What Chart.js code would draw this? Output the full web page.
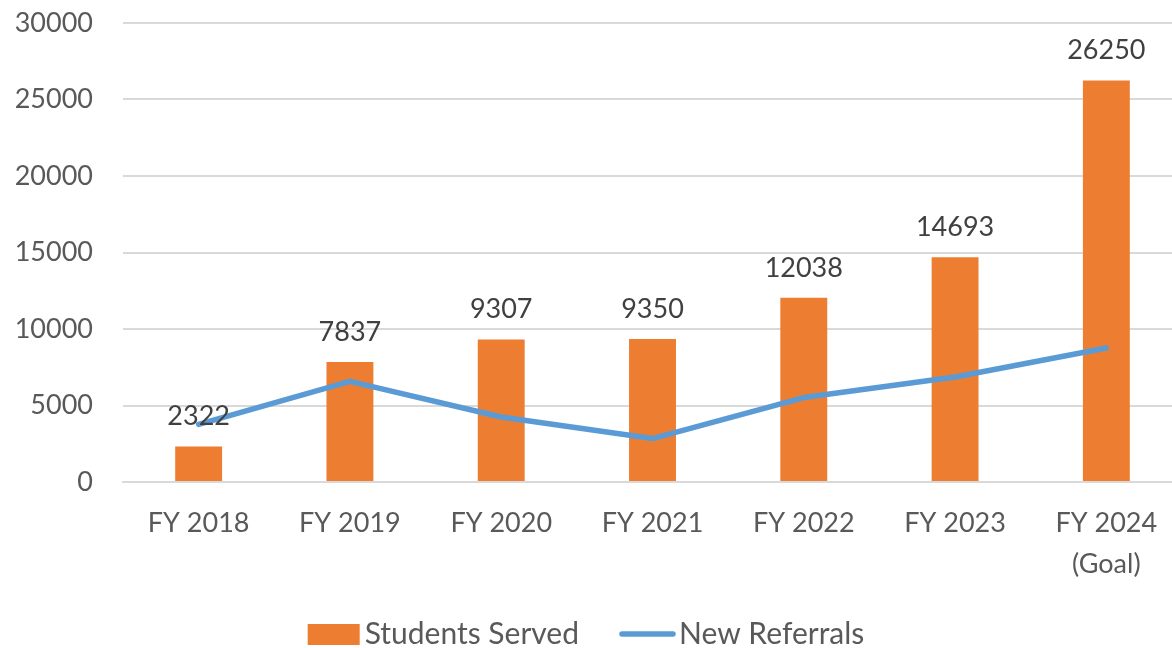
<!DOCTYPE html>
<html>
<head>
<meta charset="utf-8">
<script src="https://cdn.jsdelivr.net/npm/chart.js@4"></script>
<style>
  html, body { margin: 0; padding: 0; background: #fff; overflow: hidden; }
  #wrap { position: relative; width: 1182px; height: 648px; }
</style>
</head>
<body>
<div id="wrap"><canvas id="myChart"></canvas></div>
<script>
// data ----------------------------------------------------------
const categories = ['FY 2018', 'FY 2019', 'FY 2020', 'FY 2021', 'FY 2022', 'FY 2023', ['FY 2024', '(Goal)']];
const studentsServed = [2322, 7837, 9307, 9350, 12038, 14693, 26250];
const newReferrals = [3770, 6580, 4250, 2840, 5520, 6860, 8760];
const yTicks = [0, 5000, 10000, 15000, 20000, 25000, 30000];

const ORANGE = '#ED7D31';
const BLUE = '#5B9BD5';
const FONT = 'Lato, "Open Sans", sans-serif';

// value labels over the bars
const barLabels = {
    id: 'barLabels',
    afterDraw(chart) {
        const c = chart.ctx;
        const meta = chart.getDatasetMeta(0);
        c.save();
        c.font = '27px ' + FONT;
        c.fillStyle = '#404040';
        c.textAlign = 'center';
        c.textBaseline = 'middle';
        meta.data.forEach((bar, i) => {
            c.fillText(String(studentsServed[i]), bar.x, bar.y - 30);
        });
        c.restore();
    }
};

// legend at the bottom, drawn like the office one (small gap before text)
const bottomLegend = {
    id: 'bottomLegend',
    afterDraw(chart) {
        const c = chart.ctx;
        const ds = chart.data.datasets;
        const y = 634;
        c.save();
        c.font = '30px ' + FONT;
        c.textBaseline = 'middle';
        const w1 = c.measureText(ds[0].label).width;
        const w2 = c.measureText(ds[1].label).width;
        const total = 52 + 5 + w1 + 40 + 57 + 3 + w2;
        let x = 586 - total / 2;
        c.fillStyle = ds[0].backgroundColor;
        c.fillRect(x, y - 10, 52, 21);
        x += 57;
        c.fillStyle = '#595959';
        c.fillText(ds[0].label, x, y);
        x += w1 + 40;
        c.strokeStyle = ds[1].borderColor;
        c.lineWidth = ds[1].borderWidth;
        c.lineCap = 'round';
        c.beginPath();
        c.moveTo(x + 3, y);
        c.lineTo(x + 54, y);
        c.stroke();
        x += 60;
        c.fillText(ds[1].label, x, y);
        c.restore();
    }
};

const ctx = document.getElementById('myChart');
new Chart(ctx, {
    data: {
        labels: categories,
        datasets: [{
            type: 'bar',
            label: 'Students Served',
            data: studentsServed,
            backgroundColor: ORANGE,
            barPercentage: 0.31,
            categoryPercentage: 1,
            order: 2
        }, {
            type: 'line',
            label: 'New Referrals',
            data: newReferrals,
            borderColor: BLUE,
            backgroundColor: BLUE,
            borderWidth: 5.5,
            borderCapStyle: 'round',
            borderJoinStyle: 'round',
            pointRadius: 0,
            tension: 0,
            order: 1
        }]
    },
    options: {
        responsive: true,
        maintainAspectRatio: false,
        animation: false,
        layout: { padding: { top: 23, left: 0, right: 0, bottom: 66 } },
        plugins: {
            tooltip: { enabled: false },
            legend: { display: false }
        },
        scales: {
            x: {
                grid: { display: false, drawTicks: false },
                border: { display: true, color: '#d9d9d9', width: 2 },
                ticks: {
                    color: '#595959',
                    font: { family: FONT, size: 27, lineHeight: 1.55 },
                    maxRotation: 0,
                    autoSkip: false,
                    padding: 20
                },
                afterFit(scale) { scale.height = 100; scale.paddingLeft = 0; scale.paddingRight = 0; }
            },
            y: {
                min: 0,
                max: 30000,
                afterBuildTicks(scale) { scale.ticks = yTicks.map(v => ({ value: v })); },
                grid: { color: '#d9d9d9', lineWidth: 2, drawTicks: false },
                border: { display: false },
                ticks: {
                    color: '#595959',
                    font: { family: FONT, size: 27 },
                    padding: 30,
                    callback: v => String(v)
                },
                afterFit(scale) { scale.width = 123; scale.paddingTop = 0; scale.paddingBottom = 0; }
            }
        }
    },
    plugins: [barLabels, bottomLegend]
});
</script>
</body>
</html>
